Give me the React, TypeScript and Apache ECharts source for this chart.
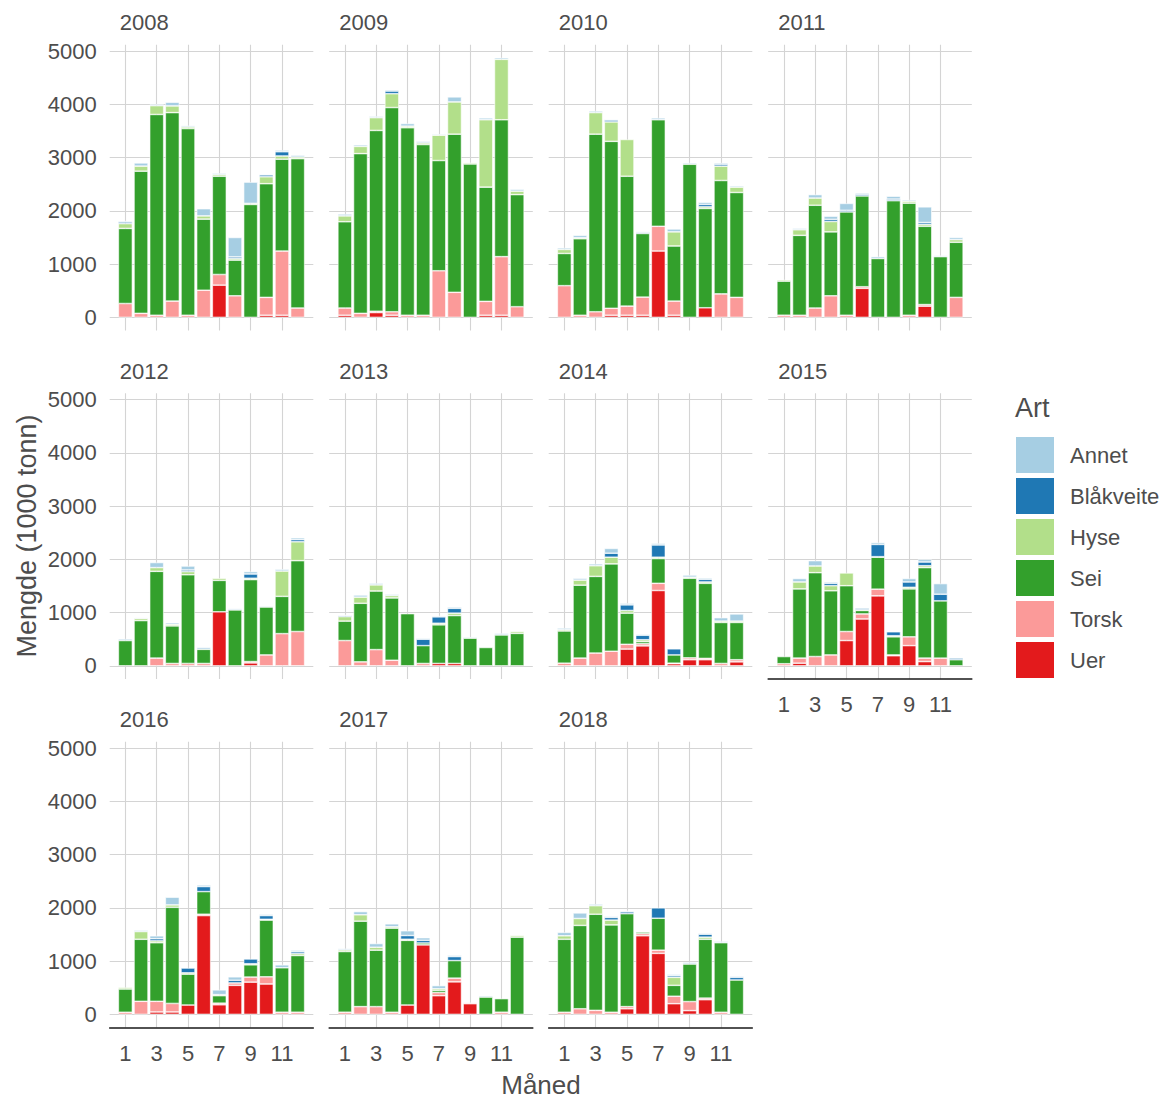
import React, { useEffect, useRef } from "react";
import * as echarts from "echarts";

const years = ["2008", "2009", "2010", "2011", "2012", "2013", "2014", "2015", "2016", "2017", "2018"];
// x axis positions 0..13; months 1..12 carry the bars, labels on odd months
const xPositions = ["0", "1", "2", "3", "4", "5", "6", "7", "8", "9", "10", "11", "12", "13"];
const monthTicks = ["1", "3", "5", "7", "9", "11"];
const valueTicks = [0, 1000, 2000, 3000, 4000, 5000];
const legendOrder = ["Annet", "Blåkveite", "Hyse", "Sei", "Torsk", "Uer"];

// values in 1000 tonn, one row per year (2008..2018), months 1..12
const uer: number[][] = [
  [0, 0, 0, 0, 0, 0, 605, 0, 0, 40, 40, 0],
  [40, 0, 90, 40, 0, 0, 0, 0, 0, 40, 40, 0],
  [0, 0, 0, 40, 40, 40, 1245, 40, 0, 180, 0, 0],
  [0, 0, 0, 0, 0, 545, 0, 0, 0, 210, 0, 0],
  [0, 0, 0, 0, 0, 0, 1015, 0, 55, 0, 0, 0],
  [0, 0, 0, 0, 0, 0, 45, 45, 0, 0, 0, 0],
  [0, 0, 0, 0, 315, 375, 1415, 40, 115, 115, 0, 75],
  [0, 50, 0, 0, 475, 880, 1315, 190, 380, 80, 0, 0],
  [0, 0, 45, 45, 175, 1855, 180, 545, 605, 570, 0, 0],
  [0, 0, 0, 0, 175, 1305, 350, 610, 200, 0, 0, 0],
  [0, 0, 0, 0, 105, 1475, 1145, 200, 70, 275, 0, 0],
];
const torsk: number[][] = [
  [260, 75, 40, 305, 40, 510, 200, 405, 0, 335, 1205, 175],
  [135, 75, 25, 65, 40, 40, 875, 470, 0, 260, 1100, 200],
  [595, 40, 105, 130, 170, 340, 465, 265, 0, 0, 440, 375],
  [40, 40, 175, 405, 40, 30, 0, 0, 40, 30, 0, 375],
  [0, 0, 145, 45, 45, 45, 0, 0, 25, 205, 605, 645],
  [475, 75, 305, 105, 0, 45, 0, 0, 0, 0, 0, 0],
  [50, 145, 240, 275, 90, 40, 135, 10, 35, 25, 45, 40],
  [40, 95, 175, 205, 170, 95, 125, 15, 165, 65, 145, 0],
  [40, 245, 200, 160, 0, 25, 30, 45, 95, 135, 40, 40],
  [40, 145, 145, 40, 0, 0, 60, 70, 20, 0, 40, 0],
  [40, 105, 75, 40, 40, 40, 60, 140, 170, 30, 40, 0],
];
const sei: number[][] = [
  [1410, 2670, 3770, 3540, 3505, 1335, 1845, 670, 2120, 2135, 1725, 2805],
  [1620, 3000, 3395, 3835, 3520, 3205, 2070, 2970, 2880, 2145, 2570, 2105],
  [605, 1435, 3335, 3135, 2440, 1195, 2000, 1035, 2875, 1865, 2130, 1970],
  [640, 1500, 1930, 1200, 1940, 1705, 1105, 2190, 2105, 1470, 1140, 1035],
  [475, 850, 1630, 705, 1665, 265, 590, 1050, 1540, 900, 700, 1330],
  [365, 1100, 1100, 1170, 980, 335, 725, 900, 520, 345, 580, 610],
  [605, 1370, 1440, 1640, 585, 40, 465, 155, 1495, 1410, 770, 700],
  [135, 1300, 1575, 1205, 860, 65, 600, 340, 900, 1700, 1075, 115],
  [435, 1165, 1100, 1805, 580, 425, 140, 0, 230, 1065, 835, 1065],
  [1140, 1605, 1060, 1580, 1215, 35, 40, 330, 0, 325, 255, 1450],
  [1370, 1565, 1805, 1640, 1745, 30, 600, 205, 705, 1105, 1305, 645],
];
const hyse: number[][] = [
  [90, 95, 165, 125, 30, 60, 30, 30, 20, 130, 60, 30],
  [110, 135, 240, 260, 30, 30, 475, 605, 25, 1265, 1135, 65],
  [75, 20, 405, 365, 690, 0, 0, 265, 0, 30, 270, 100],
  [25, 105, 135, 195, 0, 0, 0, 0, 35, 35, 0, 50],
  [0, 40, 70, 30, 60, 0, 40, 0, 25, 0, 475, 355],
  [85, 115, 115, 45, 0, 0, 30, 45, 0, 0, 0, 35],
  [25, 95, 200, 125, 50, 35, 25, 0, 20, 25, 25, 25],
  [0, 130, 125, 95, 240, 15, 10, 20, 30, 35, 0, 0],
  [30, 145, 35, 45, 25, 0, 20, 0, 20, 15, 0, 35],
  [30, 120, 55, 25, 20, 0, 30, 0, 0, 0, 0, 30],
  [65, 130, 160, 90, 0, 0, 0, 150, 0, 40, 0, 0],
];
const blakveite: number[][] = [
  [30, 0, 0, 0, 0, 0, 0, 30, 0, 35, 80, 0],
  [0, 0, 0, 50, 0, 0, 0, 0, 0, 0, 0, 0],
  [0, 0, 0, 35, 0, 20, 0, 0, 0, 45, 35, 0],
  [0, 0, 0, 40, 30, 30, 0, 30, 0, 35, 0, 0],
  [0, 0, 0, 0, 30, 0, 0, 0, 80, 0, 0, 40],
  [20, 0, 0, 0, 0, 120, 120, 90, 0, 0, 0, 0],
  [0, 0, 0, 75, 105, 85, 230, 115, 0, 50, 0, 0],
  [0, 0, 0, 45, 0, 25, 230, 75, 100, 70, 125, 30],
  [0, 0, 40, 0, 90, 95, 0, 50, 90, 70, 0, 35],
  [0, 0, 0, 0, 70, 50, 0, 75, 0, 0, 0, 0],
  [0, 0, 0, 50, 35, 0, 195, 30, 0, 55, 0, 50],
];
const annet: number[][] = [
  [20, 60, 25, 70, 25, 135, 25, 365, 400, 15, 30, 35],
  [35, 30, 25, 25, 50, 30, 20, 95, 0, 35, 30, 35],
  [30, 45, 30, 15, 0, 15, 35, 55, 25, 40, 25, 25],
  [0, 25, 65, 60, 130, 25, 35, 55, 25, 295, 20, 40],
  [30, 15, 95, 30, 75, 35, 0, 25, 45, 20, 35, 35],
  [10, 40, 30, 25, 0, 20, 20, 25, 20, 0, 30, 0],
  [30, 35, 35, 90, 30, 20, 30, 0, 40, 25, 65, 135],
  [0, 65, 100, 25, 0, 0, 35, 0, 65, 50, 200, 0],
  [0, 25, 55, 145, 0, 30, 90, 65, 0, 25, 55, 30],
  [25, 60, 70, 55, 90, 50, 60, 25, 0, 25, 0, 0],
  [65, 105, 30, 20, 20, 0, 0, 25, 30, 20, 25, 20],
];

const stackOrder: { name: string; values: number[][]; color: string }[] = [
  { name: "Uer", values: uer, color: "#E31A1C" },
  { name: "Torsk", values: torsk, color: "#FB9A99" },
  { name: "Sei", values: sei, color: "#33A02C" },
  { name: "Hyse", values: hyse, color: "#B2DF8A" },
  { name: "Blåkveite", values: blakveite, color: "#1F78B4" },
  { name: "Annet", values: annet, color: "#A6CEE3" },
];

const FONT = "'Liberation Sans', Arial, sans-serif";
const GRID_W = 203.6;
const GRID_H = 285.7;
const LEFT0 = 109.7;
const TOP0 = 44.7;
const COL_STEP = 219.5;
const ROW_STEP = 348.5;

const isMonthTick = (idx: number, value?: string) =>
  monthTicks.indexOf(value !== undefined ? String(value) : xPositions[idx]) >= 0;

function buildOption() {
  const grids: any[] = [];
  const xAxes: any[] = [];
  const yAxes: any[] = [];
  const series: any[] = [];
  const graphics: any[] = [];

  years.forEach((year, i) => {
    const row = Math.floor(i / 4);
    const col = i % 4;
    const left = LEFT0 + col * COL_STEP;
    const top = TOP0 + row * ROW_STEP;
    const isBottom = i >= 7;
    grids.push({ left, top, width: GRID_W, height: GRID_H, containLabel: false });
    xAxes.push({
      type: "category",
      gridIndex: i,
      data: xPositions,
      boundaryGap: false,
      axisLine: { show: isBottom, onZero: false, lineStyle: { color: "#1a1a1a", width: 1.6 } },
      axisTick: { show: false },
      axisLabel: {
        show: isBottom,
        interval: (idx: number, value: string) => isMonthTick(idx, value),
        fontSize: 22,
        color: "#4d4d4d",
        margin: 15,
        fontFamily: FONT,
      },
      splitLine: {
        show: true,
        interval: (idx: number, value: string) => isMonthTick(idx, value),
        lineStyle: { color: "#d4d4d4", width: 1.1 },
      },
    });
    yAxes.push({
      type: "value",
      gridIndex: i,
      min: -245,
      max: 5120,
      axisLine: { show: false, onZero: false },
      axisTick: { show: false, customValues: valueTicks },
      axisLabel: {
        show: col === 0,
        customValues: valueTicks,
        fontSize: 22,
        color: "#4d4d4d",
        margin: 13,
        fontFamily: FONT,
        formatter: (v: number) => String(v),
      },
      splitLine: { show: true, lineStyle: { color: "#d4d4d4", width: 1.1 } },
    });
    stackOrder.forEach((sp) => {
      series.push({
        type: "bar",
        name: sp.name,
        xAxisIndex: i,
        yAxisIndex: i,
        stack: "p" + i,
        barWidth: 14,
        itemStyle: { color: sp.color, borderColor: "#ffffff", borderWidth: 0.6 },
        emphasis: { disabled: true },
        data: xPositions.map((_, k) => {
          if (k < 1 || k > 12) return "-";
          const v = sp.values[i][k - 1];
          return v > 0 ? v : "-";
        }),
      });
    });
    graphics.push({
      type: "text",
      left: left + 10,
      top: top - 33,
      style: { text: year, fontSize: 22, fill: "#4d4d4d", fontFamily: FONT },
    });
  });

  graphics.push({
    type: "text",
    x: 27,
    y: 536,
    rotation: Math.PI / 2,
    style: {
      text: "Mengde (1000 tonn)",
      fontSize: 27,
      fill: "#4d4d4d",
      fontFamily: FONT,
      align: "center",
      verticalAlign: "middle",
    },
  });
  graphics.push({
    type: "text",
    x: 541,
    y: 1085,
    style: {
      text: "Måned",
      fontSize: 26,
      fill: "#4d4d4d",
      fontFamily: FONT,
      align: "center",
      verticalAlign: "middle",
    },
  });
  graphics.push({
    type: "text",
    x: 1015,
    y: 408,
    style: {
      text: "Art",
      fontSize: 27,
      fill: "#4d4d4d",
      fontFamily: FONT,
      align: "left",
      verticalAlign: "middle",
    },
  });

  return {
    animation: false,
    backgroundColor: "#ffffff",
    textStyle: { fontFamily: FONT },
    grid: grids,
    xAxis: xAxes,
    yAxis: yAxes,
    series,
    legend: {
      data: legendOrder,
      orient: "vertical",
      left: 1016,
      top: 437,
      padding: 0,
      itemWidth: 38,
      itemHeight: 36,
      itemGap: 5,
      icon: "rect",
      selectedMode: false,
      itemStyle: { borderWidth: 0 },
      textStyle: { fontSize: 22, color: "#4d4d4d", fontFamily: FONT, padding: [0, 0, 0, 11] },
    },
    graphic: graphics,
  };
}

export default function App() {
  const ref = useRef<HTMLDivElement>(null);
  useEffect(() => {
    if (!ref.current) return;
    const chart = echarts.init(ref.current, undefined, { renderer: "svg" });
    chart.setOption(buildOption() as any);
    return () => chart.dispose();
  }, []);
  return (
    <div
      ref={ref}
      style={{ position: "absolute", left: 0, top: 0, width: 1168, height: 1099 }}
    />
  );
}
